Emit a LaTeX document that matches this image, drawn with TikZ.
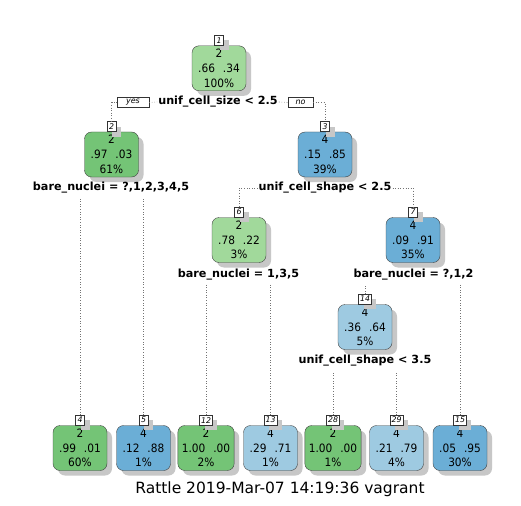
\documentclass[tikz,border=0pt]{standalone}
\usepackage{fontspec}
\setmainfont{DejaVu Sans}
\newfontfamily\boxfont[FakeStretch=0.92]{DejaVu Sans}
\usetikzlibrary{shadows}
\definecolor{gA}{RGB}{161,217,155}
\definecolor{gB}{RGB}{116,196,118}
\definecolor{bA}{RGB}{107,174,214}
\definecolor{bB}{RGB}{158,202,225}
\newcommand{\pgap}{\hspace{8pt}}
\begin{document}
\begin{tikzpicture}[x=1pt,y=-1pt,
  tbox/.style={draw=black!75, rounded corners=7pt, minimum width=54pt, minimum height=45pt,
    inner xsep=4pt, inner ysep=0pt, align=center, font=\boxfont\fontsize{11.5}{14.8}\selectfont,
    drop shadow={shadow xshift=5pt, shadow yshift=-5pt, fill=black!22, opacity=1}},
  numlab/.style={draw=black!80, fill=white, inner xsep=1.5pt, inner ysep=0pt, minimum width=9pt,
    minimum height=10pt, font=\fontsize{7.8}{8}\itshape, anchor=south,
    drop shadow={shadow xshift=5pt, shadow yshift=-5pt, fill=black!22, opacity=1}},
  split/.style={font=\fontsize{11.2}{12}\bfseries\selectfont, inner sep=1pt},
  yn/.style={draw=black!80, fill=white, inner xsep=1pt, inner ysep=0pt, minimum height=10pt,
    font=\fontsize{8}{9}\itshape},
  br/.style={draw=black!55, dotted, line width=0.6pt}]
\useasboundingbox (0,0) rectangle (521,505);
\fill[white] (0,0) rectangle (521,505);

% internal nodes
\node[tbox, fill=gA] (n1) at (219,68.3) {2\\.66\pgap.34\\100\%};
\node[tbox, fill=gB] (n2) at (111.5,154.5) {2\\.97\pgap.03\\61\%};
\node[tbox, fill=bA] (n3) at (325,154.5) {4\\.15\pgap.85\\39\%};
\node[tbox, fill=gA] (n6) at (239,240) {2\\.78\pgap.22\\3\%};
\node[tbox, fill=bA] (n7) at (413,240) {4\\.09\pgap.91\\35\%};
\node[tbox, fill=bB] (n14) at (365,327) {4\\.36\pgap.64\\5\%};
% leaves
\node[tbox, fill=gB] (n4) at (80,448) {2\\.99\pgap.01\\60\%};
\node[tbox, fill=bA] (n5) at (143.5,448) {4\\.12\pgap.88\\1\%};
\node[tbox, fill=gB] (n12) at (206,448) {2\\1.00\pgap.00\\2\%};
\node[tbox, fill=bB] (n13) at (270.5,448) {4\\.29\pgap.71\\1\%};
\node[tbox, fill=gB] (n28) at (333,448) {2\\1.00\pgap.00\\1\%};
\node[tbox, fill=bB] (n29) at (396.5,448) {4\\.21\pgap.79\\4\%};
\node[tbox, fill=bA] (n15) at (460,448) {4\\.05\pgap.95\\30\%};

% number labels
\foreach \n in {1,2,3,6,7,14,4,5,12,13,28,29,15}
  \node[numlab] (l\n) at (n\n.north) {\n};

% split labels
\node[split] (s1) at (218,102) {unif\_cell\_size < 2.5};
\node[split] (s2) at (111,188) {bare\_nuclei = ?,1,2,3,4,5};
\node[split] (s3) at (325,188) {unif\_cell\_shape < 2.5};
\node[split] (s6) at (238.5,275) {bare\_nuclei = 1,3,5};
\node[split] (s7) at (413.5,275) {bare\_nuclei = ?,1,2};
\node[split] (s14) at (365,361) {unif\_cell\_shape < 3.5};

\node[yn, minimum width=32pt] (yes) at (133,102.5) {yes};
\node[yn, minimum width=25pt] (no) at (300.5,102.5) {no};

% branches
\draw[br] (yes.west) -| (l2.north);
\draw[br] (yes.east) -- (s1.west);
\draw[br] (s1.east) -- (no.west);
\draw[br] (no.east) -| (l3.north);
\draw[br] (s3.west) -| (l6.north);
\draw[br] (s3.east) -| (l7.north);
\draw[br] (l4.north) -- ([yshift=-3pt]l4.north |- s2.south);
\draw[br] (l5.north) -- ([yshift=-3pt]l5.north |- s2.south);
\draw[br] (l12.north) -- ([yshift=-3pt]l12.north |- s6.south);
\draw[br] (l13.north) -- ([yshift=-3pt]l13.north |- s6.south);
\draw[br] (l14.north) -- ([yshift=-3pt]l14.north |- s7.south);
\draw[br] (l15.north) -- ([yshift=-3pt]l15.north |- s7.south);
\draw[br] (l28.north) -- ([yshift=-3pt]l28.north |- s14.south);
\draw[br] (l29.north) -- ([yshift=-3pt]l29.north |- s14.south);

% title
\node[font=\fontsize{15.5}{17}\selectfont, anchor=base] (title) at (280,493) {Rattle 2019-Mar-07 14:19:36 vagrant};
\end{tikzpicture}
\end{document}
